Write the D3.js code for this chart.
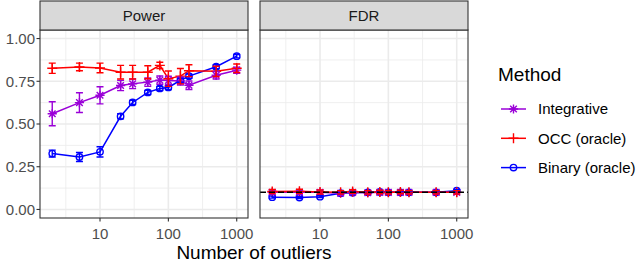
<!DOCTYPE html>
<html>
<head>
<meta charset="utf-8">
<script src="https://cdn.jsdelivr.net/npm/d3@7"></script>
<style>
  body { margin: 0; background: #fff; }
  text { font-family: "Liberation Sans", Arial, sans-serif; }
</style>
</head>
<body>
<div id="chart"></div>
<script>
// number of outliers on the x axis
var outliers = [2, 5, 10, 20, 30, 50, 75, 100, 150, 200, 500, 1000];
var methods = ["Integrative", "OCC (oracle)", "Binary (oracle)"];
var panels = ["Power", "FDR"];
var yTicks = [0, 0.25, 0.5, 0.75, 1];
var xTicks = [10, 100, 1000];
var fdrTarget = 0.1;

// power values (mean and half width of error bar)
var powerInt = [0.56, 0.625, 0.668, 0.725, 0.735, 0.745, 0.757, 0.755, 0.752, 0.727, 0.785, 0.815];
var powerIntErr = [0.07, 0.058, 0.05, 0.03, 0.028, 0.025, 0.024, 0.024, 0.024, 0.025, 0.022, 0.018];
var powerOcc = [0.826, 0.834, 0.828, 0.803, 0.803, 0.803, 0.843, 0.765, 0.78, 0.812, 0.808, 0.826];
var powerOccErr = [0.03, 0.022, 0.028, 0.04, 0.04, 0.038, 0.018, 0.045, 0.045, 0.035, 0.03, 0.025];
var powerBin = [0.327, 0.307, 0.337, 0.545, 0.626, 0.685, 0.708, 0.714, 0.756, 0.78, 0.835, 0.897];
var powerBinErr = [0.02, 0.026, 0.03, 0.015, 0.012, 0.012, 0.012, 0.012, 0.012, 0.012, 0.012, 0.01];

// fdr values
var fdrInt = [0.1, 0.1, 0.1, 0.095, 0.1, 0.098, 0.1, 0.1, 0.1, 0.1, 0.1, 0.1];
var fdrIntErr = [0.012, 0.012, 0.012, 0.012, 0.01, 0.01, 0.01, 0.01, 0.01, 0.01, 0.01, 0.01];
var fdrOcc = [0.105, 0.106, 0.102, 0.1, 0.105, 0.1, 0.102, 0.1, 0.102, 0.1, 0.1, 0.1];
var fdrOccErr = [0.012, 0.012, 0.012, 0.01, 0.01, 0.01, 0.01, 0.01, 0.01, 0.01, 0.01, 0.01];
var fdrBin = [0.072, 0.07, 0.075, 0.095, 0.098, 0.1, 0.102, 0.1, 0.1, 0.1, 0.1, 0.11];
var fdrBinErr = [0.006, 0.006, 0.006, 0.006, 0.006, 0.006, 0.006, 0.006, 0.006, 0.006, 0.006, 0.006];

var colors = { "Integrative": "#9A00D8", "OCC (oracle)": "#FF0000", "Binary (oracle)": "#0000FF" };
var shapes = { "Integrative": "star", "OCC (oracle)": "plus", "Binary (oracle)": "circle" };

function rows(y, e) {
    return outliers.map(function (x, i) { return { x: x, y: y[i], e: e[i] }; });
}
var series = {
    "Power": [
        { key: "Binary (oracle)", values: rows(powerBin, powerBinErr) },
        { key: "Integrative", values: rows(powerInt, powerIntErr) },
        { key: "OCC (oracle)", values: rows(powerOcc, powerOccErr) }
    ],
    "FDR": [
        { key: "Binary (oracle)", values: rows(fdrBin, fdrBinErr) },
        { key: "Integrative", values: rows(fdrInt, fdrIntErr) },
        { key: "OCC (oracle)", values: rows(fdrOcc, fdrOccErr) }
    ]
};

var W = 640, H = 261;
var panelW = 208, panelTop = 30, panelBot = 218, stripTop = 1;
var panelLeft = [40, 260];
var grid = "#EBEBEB", border = "#333333", tickCol = "#4D4D4D";

var svg = d3.select("#chart").append("svg")
    .attr("width", W)
    .attr("height", H);

var x = d3.scaleLog().domain([Math.pow(10, 0.122), Math.pow(10, 3.165)]).range([0, panelW]);
var y = d3.scaleLinear().domain([-0.05, 1.05]).range([panelBot, panelTop]);

function symbolPath(shape, r) {
    if (shape == "plus") return "M" + (-r) + ",0H" + r + "M0," + (-r) + "V" + r;
    if (shape == "star") {
        var d = r * 0.72;
        return "M" + (-r) + ",0H" + r + "M0," + (-r) + "V" + r +
            "M" + (-d) + "," + (-d) + "L" + d + "," + d + "M" + (-d) + "," + d + "L" + d + "," + (-d);
    }
    return null;
}

function drawPoint(g, shape, col, px, py) {
    if (shape == "circle") {
        g.append("circle").attr("cx", px).attr("cy", py).attr("r", 3.2)
            .attr("fill", "none").attr("stroke", col).attr("stroke-width", 1.4);
    } else {
        g.append("path").attr("transform", "translate(" + px + "," + py + ")")
            .attr("d", symbolPath(shape, shape == "plus" ? 5 : 4.6))
            .attr("fill", "none").attr("stroke", col).attr("stroke-width", 1.4);
    }
}

panels.forEach(function (name, pi) {
    var left = panelLeft[pi];
    var g = svg.append("g").attr("transform", "translate(" + left + ",0)");

    // background
    g.append("rect").attr("x", 0).attr("y", panelTop).attr("width", panelW)
        .attr("height", panelBot - panelTop).attr("fill", "#fff");

    // minor grid lines
    [0.5, 1.5, 2.5].forEach(function (m) {
        g.append("line").attr("x1", x(Math.pow(10, m))).attr("x2", x(Math.pow(10, m)))
            .attr("y1", panelTop).attr("y2", panelBot)
            .attr("stroke", grid).attr("stroke-width", 0.8);
    });
    [0.125, 0.375, 0.625, 0.875].forEach(function (m) {
        g.append("line").attr("x1", 0).attr("x2", panelW).attr("y1", y(m)).attr("y2", y(m))
            .attr("stroke", grid).attr("stroke-width", 0.8);
    });
    // major grid lines
    xTicks.forEach(function (t) {
        g.append("line").attr("x1", x(t)).attr("x2", x(t))
            .attr("y1", panelTop).attr("y2", panelBot)
            .attr("stroke", grid).attr("stroke-width", 1.6);
    });
    yTicks.forEach(function (t) {
        g.append("line").attr("x1", 0).attr("x2", panelW).attr("y1", y(t)).attr("y2", y(t))
            .attr("stroke", grid).attr("stroke-width", 1.6);
    });

    var data = series[name];
    var line = d3.line().x(function (d) { return x(d.x); }).y(function (d) { return y(d.y); });

    // lines
    data.forEach(function (s) {
        g.append("path").datum(s.values).attr("d", line)
            .attr("fill", "none").attr("stroke", colors[s.key]).attr("stroke-width", 1.5);
    });
    // points
    data.forEach(function (s) {
        s.values.forEach(function (d) {
            drawPoint(g, shapes[s.key], colors[s.key], x(d.x), y(d.y));
        });
    });
    // error bars
    data.forEach(function (s) {
        s.values.forEach(function (d) {
            var px = x(d.x), y0 = y(d.y - d.e), y1 = y(d.y + d.e);
            g.append("path")
                .attr("d", "M" + (px - 3.5) + "," + y1 + "H" + (px + 3.5) +
                    "M" + px + "," + y1 + "V" + y0 +
                    "M" + (px - 3.5) + "," + y0 + "H" + (px + 3.5))
                .attr("fill", "none").attr("stroke", colors[s.key]).attr("stroke-width", 1.4);
        });
    });

    if (name == "FDR") {
        g.append("line").attr("x1", 0).attr("x2", panelW)
            .attr("y1", y(fdrTarget)).attr("y2", y(fdrTarget))
            .attr("stroke", "#000").attr("stroke-width", 1.5).attr("stroke-dasharray", "6,3");
    }

    // border
    g.append("rect").attr("x", 0).attr("y", panelTop).attr("width", panelW)
        .attr("height", panelBot - panelTop).attr("fill", "none")
        .attr("stroke", border).attr("stroke-width", 1.1);

    // strip
    g.append("rect").attr("x", 0).attr("y", stripTop).attr("width", panelW)
        .attr("height", panelTop - stripTop).attr("fill", "#D9D9D9")
        .attr("stroke", border).attr("stroke-width", 1.1);
    g.append("text").text(name).attr("x", panelW / 2).attr("y", 20.5)
        .attr("text-anchor", "middle").style("font-size", "15px").attr("fill", "#1A1A1A");

    // x axis
    xTicks.forEach(function (t) {
        g.append("line").attr("x1", x(t)).attr("x2", x(t))
            .attr("y1", panelBot).attr("y2", panelBot + 3.5)
            .attr("stroke", border).attr("stroke-width", 1.1);
        g.append("text").text(d3.format("d")(t)).attr("x", x(t)).attr("y", 239)
            .attr("text-anchor", "middle").style("font-size", "15px").attr("fill", tickCol);
    });

    // y axis only on first panel
    if (pi == 0) {
        yTicks.forEach(function (t) {
            g.append("line").attr("x1", -3.5).attr("x2", 0).attr("y1", y(t)).attr("y2", y(t))
                .attr("stroke", border).attr("stroke-width", 1.1);
            g.append("text").text(d3.format(".2f")(t)).attr("x", -5).attr("y", y(t) + 5.3)
                .attr("text-anchor", "end").style("font-size", "15px").attr("fill", tickCol);
        });
    }
});

// axis title
svg.append("text").text("Number of outliers").attr("x", 254).attr("y", 258.5)
    .attr("text-anchor", "middle").style("font-size", "19px").attr("fill", "#000");

// legend
var lg = svg.append("g");
lg.append("text").text("Method").attr("x", 498).attr("y", 80.5)
    .style("font-size", "19px").attr("fill", "#000");
methods.forEach(function (m, i) {
    var cy = 109 + i * 29.3;
    lg.append("line").attr("x1", 501).attr("x2", 526).attr("y1", cy).attr("y2", cy)
        .attr("stroke", colors[m]).attr("stroke-width", 1.5);
    drawPoint(lg, shapes[m], colors[m], 513.5, cy);
    lg.append("text").text(m).attr("x", 538).attr("y", cy + 5.3)
        .style("font-size", "15px").attr("fill", "#000");
});
</script>
</body>
</html>
